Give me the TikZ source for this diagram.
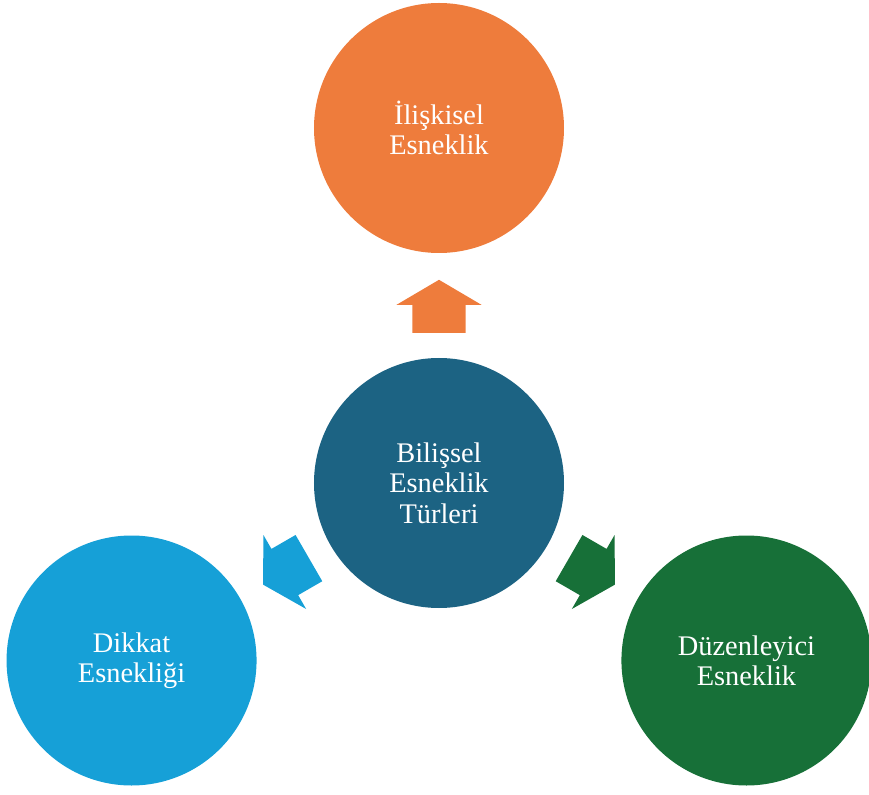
\documentclass[tikz,border=0pt]{standalone}
\usepackage{fontspec}
\setmainfont{Liberation Serif}
\usepackage{tikz}
\definecolor{hub_blue}{HTML}{1C6383}
\definecolor{flex_orange}{HTML}{EE7C3C}
\definecolor{flex_blue}{HTML}{16A0D7}
\definecolor{flex_green}{HTML}{177038}
\tikzset{
  circle_font/.style = {font=\fontsize{28.5}{30.5}\selectfont},
  circle_size/.style = {minimum size=250bp, inner sep=0}
}
\tikzset{
  bubble/.style = {circle, circle_size, circle_font, text=white, align=center},
  hub/.style = {bubble, fill=hub_blue},
  leaf/.style = {bubble, fill=#1},
  block_arrow/.style = {single arrow, draw=none, fill=#1,
      inner xsep=0, inner ysep=26.5bp,
      minimum height=53bp, minimum width=85bp,
      single arrow head extend=16bp, single arrow tip angle=119, anchor=tail}
}
\usetikzlibrary{shapes.arrows, positioning}

\begin{document}
\begin{tikzpicture}[
            % every node/.style={draw}
            ]{
        \useasboundingbox (-439bp,-312bp) rectangle (430bp,483bp);

        % Circles
        \node[hub] (types) at (0,0) {
            Bilişsel\\Esneklik\\Türleri};
        \node[leaf=flex_orange] (relational) at (90:355bp) {
            İlişkisel\\Esneklik};
        \node[leaf=flex_blue] (attention) at (210:355bp) {
            Dikkat\\Esnekliği};
        \node[leaf=flex_green] (regulatory) at (330:355bp) {
            Düzenleyici\\Esneklik};

        % Arrows
        \node[block_arrow=flex_orange, rotate=90] (a_1) at (90:150bp) {};
        \node[block_arrow=flex_blue, rotate=210] (a_2) at (210:150bp) {};
        \node[block_arrow=flex_green, rotate=330] (a_3) at (330:150bp) {};
        }
\end{tikzpicture}
\end{document}
